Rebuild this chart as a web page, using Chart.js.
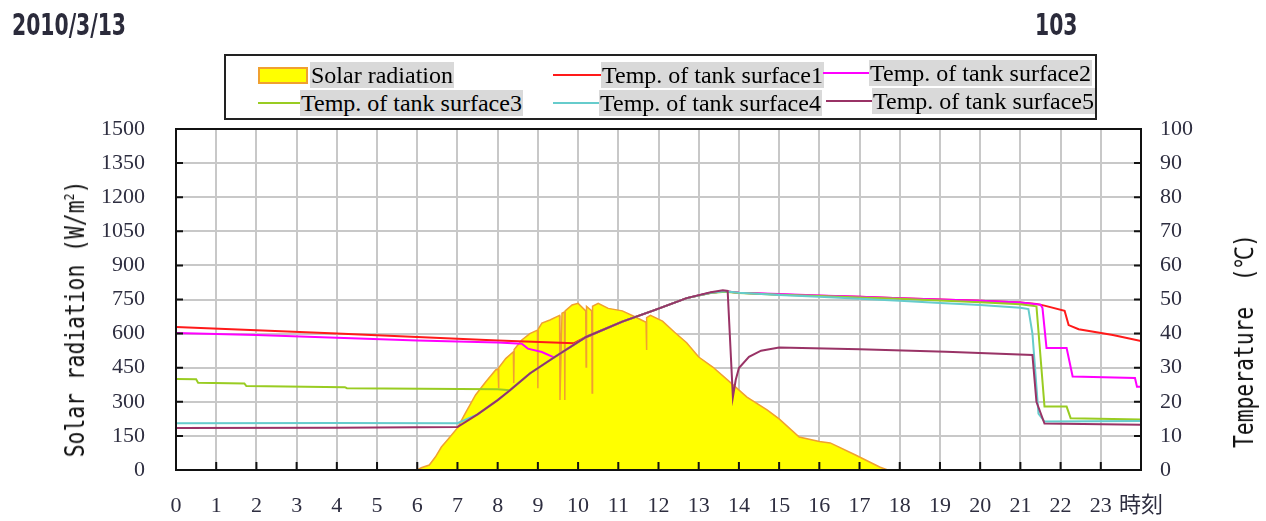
<!DOCTYPE html>
<html>
<head>
<meta charset="utf-8">
<script src="https://cdn.jsdelivr.net/npm/chart.js@4.4.0/dist/chart.umd.min.js"></script>
<style>
  body { margin: 0; background: #fff; }
  #wrap { position: relative; width: 1266px; height: 521px; overflow: hidden; }
  #wrap canvas { position: absolute; left: 0; top: 0; }
  .head { position: absolute; top: 6px; font: bold 31px "DejaVu Sans Condensed", "DejaVu Sans", sans-serif;
          color: #2b2b3b; transform: scaleX(0.73); transform-origin: left top; white-space: nowrap; }
  #legend { position: absolute; left: 224px; top: 54px; width: 869px; height: 62px; border: 2px solid #222; }
  .item { position: absolute; height: 26px; display: flex; align-items: center; }
  .item .txt { background: #d9d9d9; font: 24px "Liberation Serif", serif; color: #000; padding: 0 1px;
               line-height: 26px; white-space: nowrap; }
  .item .ln { height: 2px; }
  .item .box { width: 46px; height: 13px; background: #ffff00; border: 2px solid #f0a030; margin-right: 2px; }
  .axtitle { position: absolute; font: 26px "DejaVu Sans Mono", monospace; color: #111; white-space: pre; }
  .axtitle sup { font-size: 14px; }
</style>
</head>
<body>
<div id="wrap">
  <canvas id="chart" width="1266" height="521"></canvas>
  <div class="head" style="left:12px">2010/3/13</div>
  <div class="head" style="left:1035px">103</div>
  <div id="legend"></div>
  <div class="axtitle" id="ytitle" style="left:75px;top:319px;transform:translate(-50%,-50%) rotate(-90deg) scaleX(0.82)">Solar radiation (W/m<sup>2</sup>)</div>
  <div class="axtitle" id="y2title" style="left:1243px;top:341px;transform:translate(-50%,-50%) rotate(-90deg) scaleX(0.82)">Temperature  (℃)</div>
</div>
<script>
// 日射量 (W/m2)
const solarHours = [6.0, 6.1, 6.3, 6.45, 6.6, 6.75, 7.0, 7.2, 7.45, 7.7, 7.95, 8.01, 8.02, 8.03, 8.2, 8.39, 8.4, 8.41,
  8.6, 8.8, 8.99, 9.0, 9.01, 9.1, 9.3, 9.54, 9.55, 9.6, 9.66, 9.67, 9.68, 9.85, 10.0, 10.19, 10.2, 10.21, 10.34, 10.35,
  10.36, 10.5, 10.75, 11.1, 11.4, 11.69, 11.7, 11.71, 11.8, 12.1, 12.4, 12.7, 13.0, 13.35, 13.8, 14.2, 14.7,
  15.0, 15.5, 16.0, 16.27, 16.9, 17.5, 17.7];
const solarValues = [0, 10, 22, 57, 101, 132, 185, 251, 330, 387, 440, 445, 360, 450, 490, 520, 383, 530,
  572, 600, 615, 360, 620, 646, 660, 680, 308, 690, 695, 308, 700, 726, 733, 700, 453, 720, 700, 339,
  720, 733, 711, 700, 675, 650, 528, 670, 680, 655, 606, 560, 497, 453, 383, 321, 264,
  225, 145, 125, 119, 66, 13, 0];

// タンク表面温度 (℃)
const s1Hours = [0, 2, 4, 6, 8, 9.9, 10.2, 11.1, 11.9, 12.7, 13.3, 13.65, 14, 15, 16, 17, 18, 19, 20, 21,
  21.4, 21.6, 22.1, 22.2, 22.45, 23.3, 24];
const s1Values = [41.9, 41.0, 40.0, 39.0, 38.0, 37.2, 39.0, 43.5, 46.9, 50.4, 52.0, 52.4, 52.0, 51.5, 51.1,
  50.8, 50.4, 50.0, 49.6, 49.1, 48.7, 48.2, 46.7, 42.5, 41.3, 39.6, 37.8];

const s2Hours = [0, 2, 4, 6, 8, 8.6, 8.75, 9.1, 9.4, 10.2, 11.1, 11.9, 12.7, 13.3, 13.65, 14, 15, 16, 17, 18,
  19, 20, 21, 21.5, 21.55, 21.65, 22.15, 22.3, 23.85, 23.9, 24];
const s2Values = [40.2, 39.6, 38.8, 38.0, 37.4, 37.0, 35.6, 34.6, 33.0, 39.0, 43.5, 46.9, 50.4, 52.0, 52.4,
  52.0, 51.6, 51.2, 50.8, 50.4, 50.0, 49.6, 49.1, 48.5, 47.5, 35.8, 35.8, 27.4, 27.0, 24.4, 24.4];

const s3Hours = [0, 0.5, 0.55, 1.7, 1.75, 4.2, 4.25, 8.0, 8.3, 8.8, 9.4, 10.2, 11.1, 11.9, 12.7, 13.3, 13.65,
  14, 15, 16, 17, 18, 19, 20, 21, 21.4, 21.6, 22.15, 22.25, 24];
const s3Values = [26.7, 26.6, 25.6, 25.4, 24.6, 24.3, 24.0, 23.7, 23.4, 28.3, 33.0, 39.0, 43.5, 46.9, 50.4,
  51.9, 52.3, 51.9, 51.4, 51.0, 50.6, 50.2, 49.7, 49.2, 48.6, 48.0, 18.6, 18.6, 15.2, 14.8];

const s4Hours = [0, 4, 7.0, 7.5, 8.0, 8.3, 8.8, 9.4, 10.2, 11.1, 11.9, 12.7, 13.3, 13.65, 14, 15, 16, 17, 18,
  19, 20, 21, 21.2, 21.3, 21.45, 21.6, 24];
const s4Values = [13.7, 13.8, 13.7, 16.3, 20.5, 23.3, 28.3, 33.0, 39.0, 43.5, 46.9, 50.4, 52.0, 52.4, 52.0,
  51.3, 50.8, 50.2, 49.6, 49.0, 48.4, 47.6, 47.2, 40.0, 16.5, 14.2, 14.4];

const s5Hours = [0, 4, 7.0, 7.5, 8.0, 8.3, 8.8, 9.4, 10.2, 11.1, 11.9, 12.7, 13.3, 13.6, 13.72, 13.85, 13.92,
  14.0, 14.25, 14.55, 15, 17, 19.15, 21.3, 21.4, 21.6, 24];
const s5Values = [12.3, 12.4, 12.6, 16.3, 20.5, 23.3, 28.3, 33.0, 39.0, 43.5, 46.9, 50.4, 52.1, 52.7, 52.5,
  21.4, 26.4, 29.9, 33.2, 35.0, 35.9, 35.4, 34.7, 33.7, 20.0, 13.6, 13.3];

const seriesNames = ["Solar radiation", "Temp. of tank surface1", "Temp. of tank surface2",
  "Temp. of tank surface3", "Temp. of tank surface4", "Temp. of tank surface5"];
const seriesColors = ["#f0a030", "#ff1a1a", "#ff00ff", "#99cc22", "#66cccc", "#993366"];

const pts = (xs, ys) => xs.map((x, i) => ({ x: x, y: ys[i] }));
const tempSets = [[s1Hours, s1Values], [s2Hours, s2Values], [s3Hours, s3Values], [s4Hours, s4Values], [s5Hours, s5Values]];

// 凡例 (HTML) : [left, top, 線の長さ]
const legendPos = [
  [258, 62, 0], [553, 62, 48], [823, 60, 46],
  [258, 90, 42], [553, 90, 46], [826, 88, 46]
];
const legend = document.getElementById("legend");
seriesNames.forEach((name, i) => {
  const el = document.createElement("div");
  el.className = "item";
  el.style.left = (legendPos[i][0] - 226) + "px";
  el.style.top = (legendPos[i][1] - 56) + "px";
  const mark = i === 0 ? '<div class="box"></div>'
    : `<div class="ln" style="width:${legendPos[i][2]}px;background:${seriesColors[i]}"></div>`;
  el.innerHTML = mark + `<span class="txt">${name}</span>`;
  legend.appendChild(el);
});

// 枠と内向き目盛り
const frameTicks = {
  id: "frameTicks",
  afterDraw(chart) {
    const { ctx, chartArea: a, scales } = chart;
    ctx.save();
    ctx.strokeStyle = "#111";
    ctx.lineWidth = 2;
    ctx.strokeRect(a.left, a.top, a.right - a.left, a.bottom - a.top);
    ctx.beginPath();
    scales.y.ticks.forEach(t => {
      const p = scales.y.getPixelForValue(t.value);
      ctx.moveTo(a.left, p); ctx.lineTo(a.left + 7, p);
    });
    scales.y2.ticks.forEach(t => {
      const p = scales.y2.getPixelForValue(t.value);
      ctx.moveTo(a.right, p); ctx.lineTo(a.right - 7, p);
    });
    scales.x.ticks.forEach(t => {
      const p = scales.x.getPixelForValue(t.value);
      ctx.moveTo(p, a.bottom); ctx.lineTo(p, a.bottom - 8);
    });
    ctx.stroke();
    ctx.restore();
  }
};

const tickFont = { family: "'Liberation Serif', 'Noto Sans CJK JP', serif", size: 22 };

const datasets = [{
  label: seriesNames[0],
  data: pts(solarHours, solarValues),
  yAxisID: "y",
  borderColor: seriesColors[0],
  backgroundColor: "#ffff00",
  borderWidth: 1.5,
  fill: "origin",
  pointRadius: 0,
  order: 10
}];
tempSets.forEach((s, i) => {
  datasets.push({
    label: seriesNames[i + 1],
    data: pts(s[0], s[1]),
    yAxisID: "y2",
    borderColor: seriesColors[i + 1],
    borderWidth: 2,
    fill: false,
    pointRadius: 0,
    order: 6 - i
  });
});

new Chart(document.getElementById("chart"), {
  type: "line",
  data: { datasets: datasets },
  plugins: [frameTicks],
  options: {
    responsive: false,
    animation: false,
    layout: { padding: { top: 129, left: 0, right: 0, bottom: 0 } },
    plugins: { legend: { display: false }, tooltip: { enabled: false } },
    scales: {
      x: {
        type: "linear", min: 0, max: 24,
        afterFit: s => { s.height = 51; },
        ticks: { stepSize: 1, autoSkip: false, padding: 23, color: "#2e2e40", font: tickFont, maxRotation: 0,
                 callback: v => (v === 24 ? "時刻" : String(v)) },
        grid: { color: "#c8c8c8", lineWidth: 2, drawTicks: false },
        border: { display: false }
      },
      y: {
        position: "left", min: 0, max: 1500,
        afterFit: s => { s.width = 176; },
        ticks: { stepSize: 150, autoSkip: false, padding: 31, color: "#2e2e40", font: tickFont,
                 callback: v => String(v) },
        grid: { color: "#c8c8c8", lineWidth: 2, drawTicks: false },
        border: { display: false }
      },
      y2: {
        position: "right", min: 0, max: 100,
        afterFit: s => { s.width = 125; },
        ticks: { stepSize: 10, autoSkip: false, padding: 19, color: "#2e2e40", font: tickFont,
                 callback: v => String(v) },
        grid: { drawOnChartArea: false, drawTicks: false },
        border: { display: false }
      }
    }
  }
});
</script>
</body>
</html>
